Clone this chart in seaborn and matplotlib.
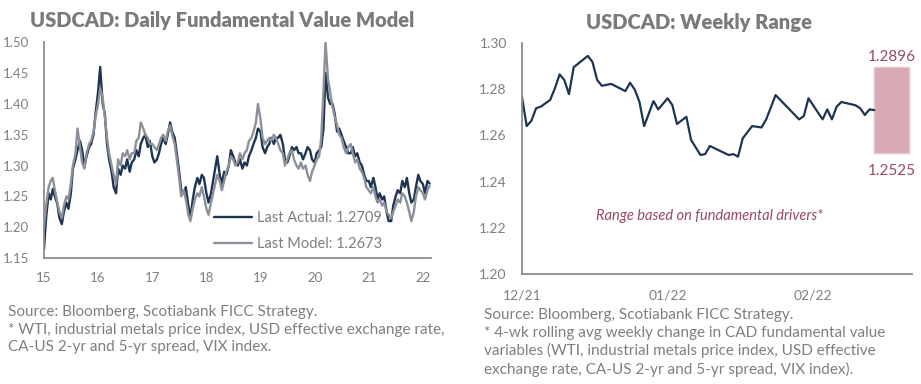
import pandas as pd
import matplotlib
matplotlib.use("Agg")
import matplotlib.pyplot as plt
import matplotlib.dates as mdates
import seaborn as sns

# ---- left panel: semi-monthly readings, Jan 2015 .. Feb 2022
actual = [
    1.165, 1.215, 1.255, 1.245, 1.262, 1.250, 1.238, 1.215, 1.205, 1.225, 1.240, 1.230,
    1.255, 1.295, 1.310, 1.325, 1.340, 1.325, 1.300, 1.315, 1.330, 1.335, 1.350, 1.385,
    1.420, 1.460, 1.400, 1.385, 1.335, 1.310, 1.290, 1.265, 1.255, 1.295, 1.285, 1.300,
    1.295, 1.310, 1.290, 1.305, 1.310, 1.325, 1.315, 1.335, 1.345, 1.350, 1.330, 1.340,
    1.315, 1.305, 1.310, 1.320, 1.335, 1.345, 1.335, 1.350, 1.370, 1.355, 1.345, 1.320,
    1.290, 1.260, 1.255, 1.265, 1.235, 1.215, 1.245, 1.265, 1.280, 1.270, 1.285, 1.280,
    1.255, 1.240, 1.255, 1.275, 1.295, 1.315, 1.285, 1.270, 1.290, 1.285, 1.300, 1.325,
    1.315, 1.305, 1.300, 1.310, 1.295, 1.305, 1.300, 1.315, 1.325, 1.335, 1.345, 1.360,
    1.355, 1.330, 1.320, 1.330, 1.335, 1.345, 1.335, 1.345, 1.345, 1.350, 1.335, 1.310,
    1.305, 1.315, 1.330, 1.325, 1.330, 1.320, 1.320, 1.310, 1.320, 1.330, 1.325, 1.310,
    1.305, 1.320, 1.325, 1.330, 1.360, 1.450, 1.410, 1.400, 1.400, 1.385, 1.355, 1.360,
    1.350, 1.340, 1.330, 1.320, 1.320, 1.330, 1.315, 1.320, 1.305, 1.300, 1.285, 1.275,
    1.275, 1.265, 1.280, 1.265, 1.245, 1.255, 1.245, 1.250, 1.225, 1.210, 1.210, 1.235,
    1.250, 1.260, 1.255, 1.275, 1.265, 1.280, 1.255, 1.240, 1.245, 1.265, 1.285, 1.275,
    1.270, 1.255, 1.275, 1.2709,
]
model = [
    1.200, 1.235, 1.265, 1.275, 1.280, 1.260, 1.240, 1.225, 1.215, 1.235, 1.250, 1.245,
    1.270, 1.300, 1.320, 1.360, 1.330, 1.305, 1.295, 1.320, 1.335, 1.340, 1.355, 1.380,
    1.400, 1.425, 1.410, 1.380, 1.345, 1.320, 1.300, 1.285, 1.270, 1.310, 1.300, 1.320,
    1.315, 1.325, 1.310, 1.320, 1.320, 1.340, 1.345, 1.370, 1.360, 1.350, 1.345, 1.335,
    1.335, 1.330, 1.325, 1.335, 1.345, 1.350, 1.340, 1.355, 1.365, 1.350, 1.335, 1.310,
    1.280, 1.250, 1.260, 1.245, 1.220, 1.210, 1.230, 1.245, 1.255, 1.250, 1.265, 1.250,
    1.230, 1.220, 1.240, 1.255, 1.270, 1.285, 1.275, 1.260, 1.275, 1.290, 1.300, 1.315,
    1.310, 1.300, 1.305, 1.320, 1.310, 1.320, 1.325, 1.340, 1.345, 1.355, 1.370, 1.400,
    1.375, 1.345, 1.335, 1.340, 1.345, 1.340, 1.350, 1.345, 1.335, 1.325, 1.320, 1.300,
    1.310, 1.320, 1.325, 1.310, 1.300, 1.295, 1.305, 1.295, 1.300, 1.285, 1.275, 1.290,
    1.300, 1.310, 1.315, 1.345, 1.420, 1.500, 1.440, 1.420, 1.395, 1.380, 1.365, 1.350,
    1.345, 1.330, 1.320, 1.330, 1.335, 1.320, 1.305, 1.310, 1.295, 1.290, 1.280, 1.265,
    1.260, 1.255, 1.265, 1.250, 1.240, 1.245, 1.235, 1.240, 1.225, 1.220, 1.215, 1.225,
    1.235, 1.245, 1.240, 1.255, 1.250, 1.240, 1.225, 1.210, 1.225, 1.250, 1.265, 1.260,
    1.255, 1.245, 1.260, 1.2673,
]
long_dates = pd.date_range("2015-01-01", periods=len(actual), freq="SMS")

# ---- right panel: daily spot, Dec 2021 .. Feb 2022
weekly_dates = pd.to_datetime([
    "2021-12-01", "2021-12-02", "2021-12-03", "2021-12-04", "2021-12-05", "2021-12-07",
    "2021-12-08", "2021-12-09", "2021-12-10", "2021-12-11", "2021-12-12", "2021-12-15",
    "2021-12-16", "2021-12-17", "2021-12-18", "2021-12-20", "2021-12-23", "2021-12-24",
    "2021-12-25", "2021-12-26", "2021-12-27", "2021-12-29", "2021-12-30", "2022-01-01",
    "2022-01-02", "2022-01-03", "2022-01-05", "2022-01-06", "2022-01-08", "2022-01-09",
    "2022-01-10", "2022-01-14", "2022-01-15", "2022-01-16", "2022-01-17", "2022-01-19",
    "2022-01-21", "2022-01-22", "2022-01-24", "2022-01-29", "2022-01-30", "2022-01-31",
    "2022-02-03", "2022-02-04", "2022-02-05", "2022-02-06", "2022-02-07", "2022-02-10",
    "2022-02-11", "2022-02-12", "2022-02-13", "2022-02-14",
])
weekly_spot = [
    1.2764, 1.2640, 1.2663, 1.2717, 1.2724, 1.2753,
    1.2803, 1.2863, 1.2839, 1.2778, 1.2894, 1.2943,
    1.2917, 1.2839, 1.2814, 1.2822, 1.2791, 1.2827,
    1.2798, 1.2745, 1.2640, 1.2748, 1.2712, 1.2760,
    1.2731, 1.2649, 1.2680, 1.2580, 1.2515, 1.2519,
    1.2554, 1.2515, 1.2519, 1.2508, 1.2587, 1.2640,
    1.2634, 1.2669, 1.2774, 1.2669, 1.2683, 1.2760,
    1.2669, 1.2712, 1.2669, 1.2724, 1.2744, 1.2730,
    1.2717, 1.2688, 1.2712, 1.2709,
]
range_low = 1.2525
range_high = 1.2896
range_start = pd.Timestamp("2022-02-14")
range_days = 7.3

navy = "#1d3452"
grey_line = "#8b9099"
txt = "#7f7f7f"
mauve = "#9a4a5e"

sns.set_theme(style="white")
plt.rcParams["font.family"] = ["Lato", "DejaVu Sans"]

fig = plt.figure(figsize=(9.21, 3.84), dpi=100)
ax1 = fig.add_axes([0.0478, 0.328, 0.4202, 0.562])
ax2 = fig.add_axes([0.5668, 0.2857, 0.4232, 0.6031])

# left chart
df = pd.DataFrame({"date": long_dates, "actual": actual, "model": model})
sns.lineplot(data=df, x="date", y="actual", ax=ax1, color=navy, lw=1.7,
             label="Last Actual: 1.2709")
sns.lineplot(data=df, x="date", y="model", ax=ax1, color=grey_line, lw=1.7,
             label="Last Model: 1.2673")
ax1.set_xlim(pd.Timestamp("2015-01-01"), pd.Timestamp("2022-02-25"))
ax1.set_ylim(1.15, 1.50)
ax1.set_yticks([1.15, 1.20, 1.25, 1.30, 1.35, 1.40, 1.45, 1.50])
ax1.yaxis.set_major_formatter(matplotlib.ticker.FormatStrFormatter("%.2f"))
ax1.xaxis.set_major_locator(mdates.YearLocator())
ax1.xaxis.set_major_formatter(mdates.DateFormatter("%y"))
ax1.tick_params(axis="y", direction="in", length=4, pad=11, colors=txt, labelsize=9.5)
ax1.tick_params(axis="x", direction="out", length=4, pad=6, colors=txt, labelsize=9.5)
ax1.set_xlabel("")
ax1.set_ylabel("")
ax1.legend(loc="lower left", bbox_to_anchor=(0.405, -0.03), frameon=False,
           fontsize=10.5, labelcolor=txt, handlelength=2.6, labelspacing=0.85,
           handletextpad=0.35)
ax1.set_title("USDCAD: Daily Fundamental Value Model", fontsize=14.5, fontweight="heavy",
              color="#7a7a7a", pad=11, x=0.46)

# right chart
sns.lineplot(x=weekly_dates, y=weekly_spot, ax=ax2, color=navy, lw=1.6)
ax2.bar(range_start, range_high - range_low, width=range_days, bottom=range_low,
        align="edge", color="#d8abb4", edgecolor="#e6c6cc", lw=1)
ax2.text(range_start + pd.Timedelta(days=range_days / 2), range_high + 0.0012, "1.2896",
         ha="center", va="bottom", color=mauve, fontsize=11)
ax2.text(range_start + pd.Timedelta(days=range_days / 2), range_low - 0.0048, "1.2525",
         ha="center", va="top", color=mauve, fontsize=11)
ax2.text(0.48, 0.25, "Range based on fundamental drivers*", transform=ax2.transAxes,
         ha="center", va="center", style="italic", color=mauve, fontsize=10.5)
ax2.set_xlim(pd.Timestamp("2021-12-01"), pd.Timestamp("2022-02-22"))
ax2.set_ylim(1.20, 1.30)
ax2.set_yticks([1.20, 1.22, 1.24, 1.26, 1.28, 1.30])
ax2.yaxis.set_major_formatter(matplotlib.ticker.FormatStrFormatter("%.2f"))
ax2.set_xticks(pd.to_datetime(["2021-12-01", "2022-01-01", "2022-02-01"]))
ax2.xaxis.set_major_formatter(mdates.DateFormatter("%m/%y"))
ax2.tick_params(axis="y", direction="in", length=5, pad=11, colors=txt, labelsize=10)
ax2.tick_params(axis="x", direction="out", length=5, pad=6, colors=txt, labelsize=10)
ax2.set_xlabel("")
ax2.set_ylabel("")
ax2.set_title("USDCAD: Weekly Range", fontsize=14.5, fontweight="heavy",
              color="#7a7a7a", pad=10, x=0.455)

for ax in (ax1, ax2):
    sns.despine(ax=ax)
    for s in ("left", "bottom"):
        ax.spines[s].set_color("#8c8c8c")
        ax.spines[s].set_linewidth(1.3)

fig.text(0.009, 0.205, "Source: Bloomberg, Scotiabank FICC Strategy.\n"
         "* WTI, industrial metals price index, USD effective exchange rate,\n"
         "CA-US 2-yr and 5-yr spread, VIX index.",
         ha="left", va="top", color=txt, fontsize=11, linespacing=1.3)
fig.text(0.526, 0.197, "Source: Bloomberg, Scotiabank FICC Strategy.\n"
         "* 4-wk rolling avg weekly change in CAD fundamental value\n"
         "variables (WTI, industrial metals price index, USD effective\n"
         "exchange rate, CA-US 2-yr and 5-yr spread, VIX index).",
         ha="left", va="top", color=txt, fontsize=11, linespacing=1.3)

fig.savefig("out.png", dpi=100)
